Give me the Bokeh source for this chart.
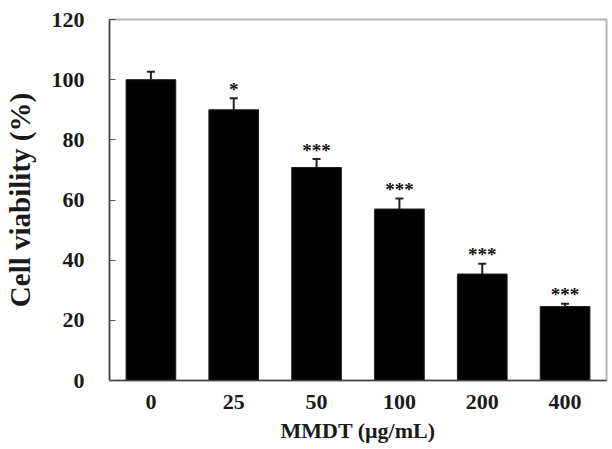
from bokeh.plotting import figure
from bokeh.models import ColumnDataSource, FactorRange, Whisker, TeeHead, FixedTicker
from bokeh.core.properties import value
from bokeh.embed import file_html
from bokeh.resources import INLINE

# MMDT concentrations (µg/mL) and measured cell viability (% of control)
doses = ["0", "25", "50", "100", "200", "400"]
viability = [100.0, 90.0, 70.8, 57.0, 35.4, 24.6]
sd = [2.6, 3.8, 2.8, 3.5, 3.4, 0.9]
significance = ["", "*", "***", "***", "***", "***"]

src = ColumnDataSource(data=dict(
    dose=doses,
    viability=viability,
    upper=[v + s for v, s in zip(viability, sd)],
    stars=significance,
))

FONT = "Liberation Serif"

p = figure(
    x_range=FactorRange(*doses, range_padding=0),
    y_range=(0, 120),
    width=612, height=449,
    output_backend="svg", toolbar_location=None,
    min_border_left=109, min_border_right=6,
    min_border_top=19, min_border_bottom=69,
    background_fill_color="white", border_fill_color="white",
)

p.vbar(x="dose", top="viability", width=0.6, source=src,
       fill_color="black", line_color="#222222", line_width=1)

whisk = Whisker(base="dose", lower="viability", upper="upper", source=src,
                line_color="#222222", line_width=2,
                upper_head=TeeHead(size=8, line_color="#222222", line_width=2),
                lower_head=None)
p.add_layout(whisk)

p.text(x="dose", y="upper", text="stars", source=src,
       text_font=value(FONT), text_font_style="bold", text_font_size="19px",
       text_align="center", text_baseline="middle", y_offset=-9,
       text_color="#111111")

# frame: dark left/bottom axes, light top/right outline
p.outline_line_color = "#b5b5b5"
p.outline_line_width = 2
p.grid.visible = False

p.yaxis.ticker = FixedTicker(ticks=[0, 20, 40, 60, 80, 100, 120])
p.yaxis.minor_tick_line_color = None
p.yaxis.major_tick_in = 6
p.yaxis.major_tick_out = 0
p.yaxis.major_label_standoff = 25
p.xaxis.major_tick_line_color = None
p.xaxis.major_label_standoff = 8

for ax in (p.xaxis, p.yaxis):
    ax.axis_line_color = "#444444"
    ax.axis_line_width = 1.5
    ax.major_label_text_font = FONT
    ax.major_label_text_font_style = "bold"
    ax.major_label_text_font_size = "22px"
    ax.major_label_text_color = "#1a1a1a"
    ax.axis_label_text_font = FONT
    ax.axis_label_text_font_style = "bold"
    ax.axis_label_text_color = "#1a1a1a"

p.yaxis.major_tick_line_color = "#555555"

p.xaxis.axis_label = "MMDT (μg/mL)"
p.xaxis.axis_label_text_font_size = "22px"
p.xaxis.axis_label_standoff = 6
p.yaxis.axis_label = "Cell viability (%)"
p.yaxis.axis_label_text_font_size = "29px"
p.yaxis.axis_label_standoff = 13

open("out.html", "w").write(file_html(p, INLINE))
